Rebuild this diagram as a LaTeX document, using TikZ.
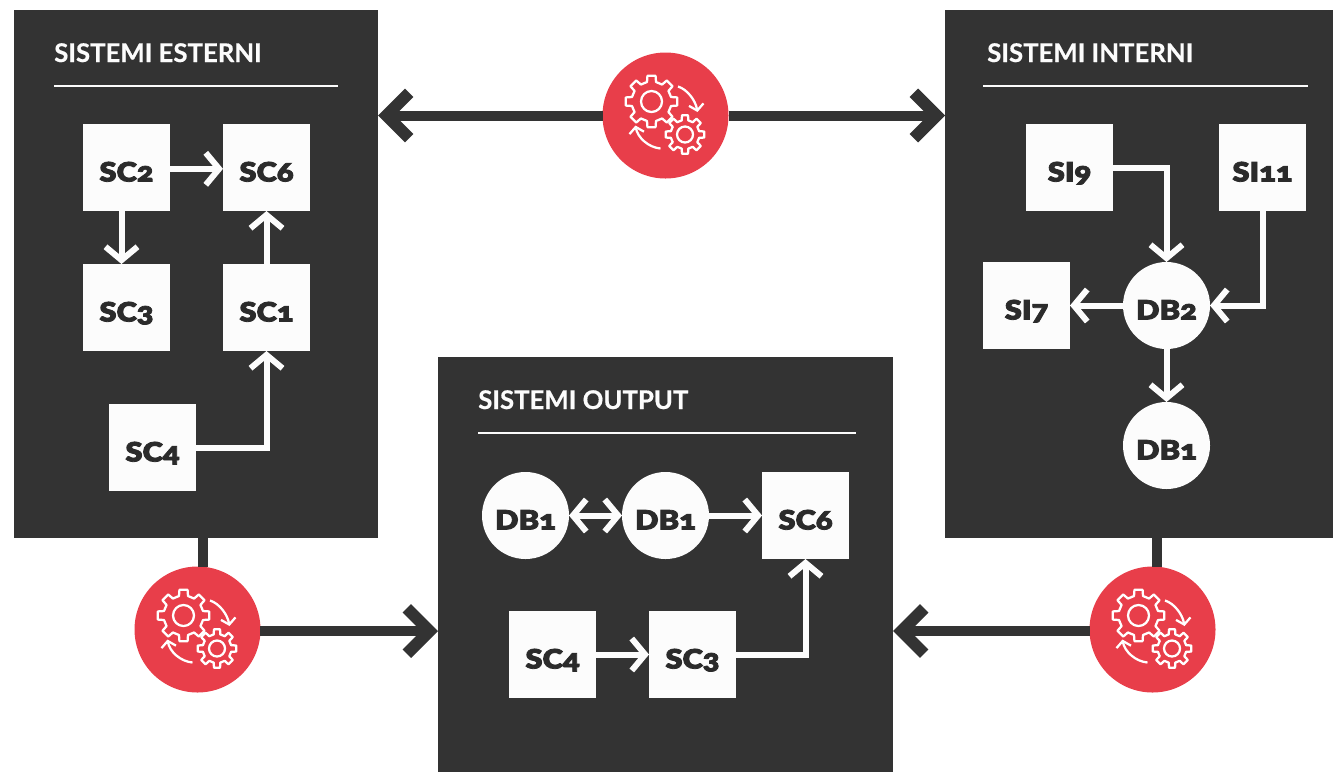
\documentclass[tikz,border=0pt]{standalone}
\usepackage{fontspec}
\setmainfont{Lato}
\newfontfamily\titlefont[FakeBold=0.5]{Lato Bold}
\newfontfamily\nodefont[Numbers=OldStyle,FakeBold=3,FakeStretch=1.16]{Lato Black}
\usetikzlibrary{arrows.meta,calc}
\definecolor{panel}{HTML}{333333}
\definecolor{ink}{HTML}{2B2B2B}
\definecolor{snow}{HTML}{FCFCFC}
\definecolor{hub}{HTML}{E83E4A}
\tikzset{
  x=0.75pt,y=-0.75pt,
  sq/.style={fill=snow,text=ink,minimum size=65.25pt,inner sep=0,outer sep=0,text height=21pt,text depth=0pt,font=\nodefont\fontsize{20}{20}\selectfont},
  ci/.style={circle,fill=snow,text=ink,minimum size=65.25pt,inner sep=0,outer sep=0,text height=21pt,text depth=0pt,font=\nodefont\fontsize{20}{20}\selectfont},
  hubnode/.style={circle,fill=hub,minimum size=94.5pt,inner sep=0,outer sep=0},
  wbarb/.tip={Straight Barb[length=10pt,width=24pt,line width=4.5pt,sharp]},
  dbarb/.tip={Straight Barb[length=17pt,width=34pt,line width=9pt,sharp]},
  wline/.style={draw=snow,line width=4.5pt,-wbarb},
  wboth/.style={draw=snow,line width=4.5pt,wbarb-wbarb},
  dline/.style={draw=panel,line width=7.5pt},
  darrow/.style={draw=panel,line width=7.5pt,-dbarb},
  ttl/.style={text=snow,anchor=base west,inner sep=0,font=\titlefont\fontsize{19.3}{20}\selectfont},
  rule/.style={draw=snow,line width=1.5pt},
  gearline/.style={draw=white,line width=1.7pt,line join=round},
  giro/.style={draw=white,line width=1.7pt,-{Straight Barb[length=4.5pt,width=11pt,line width=1.7pt]}},
  pics/gears/.style={code={
    \begin{scope}[shift={(-14,-14)}]
      \draw[gearline] \foreach \a [count=\i] in {0,45,...,315}{
        \ifnum\i=1 (\a-9:26) \else -- (\a-9:26) \fi
        -- (\a+9:26) -- (\a+13:20) -- (\a+32:20) } -- cycle;
      \draw[gearline] (0,0) circle (10.5);
    \end{scope}
    \begin{scope}[shift={(19.5,19)}]
      \draw[gearline] \foreach \a [count=\i] in {0,45,...,315}{
        \ifnum\i=1 (\a-9:19.5) \else -- (\a-9:19.5) \fi
        -- (\a+9:19.5) -- (\a+13:14.5) -- (\a+32:14.5) } -- cycle;
      \draw[gearline] (0,0) circle (8);
    \end{scope}
    \draw[giro] (12.5,-29) .. controls (22,-26) and (30,-15) .. (32,-3.5);
    \draw[giro] (-5,33) .. controls (-17,32) and (-28,22) .. (-30,10);
  }}
}
\begin{document}
\begin{tikzpicture}
\useasboundingbox (0,0) rectangle (1333,772);
% panels
\fill[panel] (14,10) coordinate (lnw) rectangle (378,538) coordinate (lse);
\fill[panel] (945,10) coordinate (rnw) rectangle (1333,538) coordinate (rse);
\fill[panel] (438,357) coordinate (bnw) rectangle (893,772) coordinate (bse);
% hubs
\node[hubnode] (hubt) at (665.5,115.5) {};
\node[hubnode] (hubl) at (197.5,629.5) {};
\node[hubnode] (hubr) at (1152.5,629.5) {};
\pic at (hubt) {gears};
\pic at (hubl) {gears};
\pic at (hubr) {gears};
% big connectors
\coordinate (pl) at (378,115.5);
\coordinate (pr) at (945,115.5);
\coordinate (pbl) at (438,631);
\coordinate (pbr) at (893,631);
\coordinate (plb) at (203,538);
\coordinate (prb) at (1157,538);
\coordinate (hl1) at (260,631);
\coordinate (hr1) at (1090,631);
\coordinate (hl0) at (203,567);
\coordinate (hr0) at (1157,567);
\draw[darrow] (hubt.west) -- (pl);
\draw[darrow] (hubt.east) -- (pr);
\draw[dline] (plb) -- (hl0);
\draw[dline] (prb) -- (hr0);
\draw[darrow] (hl1) -- (pbl);
\draw[darrow] (hr1) -- (pbr);
% titles
\node[ttl] (t1) at (54,62) {SISTEMI ESTERNI};
\node[ttl] (t2) at (987,62) {SISTEMI INTERNI};
\node[ttl] (t3) at (478,409) {SISTEMI OUTPUT};
\draw[rule] (54,85.5) -- (338,85.5);
\draw[rule] (983,85.5) -- (1308,85.5);
\draw[rule] (478,433) -- (856,433);
% left nodes
\node[sq] (sc2) at (126.5,167.5) {SC2};
\node[sq] (sc6) at (266.5,167.5) {SC6};
\node[sq] (sc3) at (126.5,307.5) {SC3};
\node[sq] (sc1) at (266.5,307.5) {SC1};
\node[sq] (sc4) at (152.5,447.5) {SC4};
\draw[wline] ([yshift=-1pt]sc2.east) -- ([yshift=-1pt]sc6.west);
\draw[wline] ([xshift=-3.75pt]sc2.south) -- ([xshift=-3.75pt]sc3.north);
\draw[wline] (sc1.north) -- (sc6.south);
\draw[wline] (sc4.east) -| (sc1.south);
% right nodes
\node[sq] (si9) at (1069.5,167.5) {SI9};
\node[sq] (si11) at (1262.5,167.5) {SI11};
\node[sq] (si7) at (1026.5,305.5) {SI7};
\node[ci] (db2) at (1166.5,305.5) {DB2};
\node[ci] (db1r) at (1166.5,445.5) {DB1};
\draw[wline] (si9.east) -| (db2.north);
\draw[wline] (si11.south) |- (db2.east);
\draw[wline] (db2.west) -- (si7.east);
\draw[wline] (db2.south) -- (db1r.north);
% bottom nodes
\node[ci] (db1a) at (525.5,515.5) {DB1};
\node[ci] (db1b) at (665.5,515.5) {DB1};
\node[sq] (sc6b) at (805.5,515.5) {SC6};
\node[sq] (sc4b) at (552.5,654.5) {SC4};
\node[sq] (sc3b) at (692.5,654.5) {SC3};
\draw[wboth] (db1a.east) -- (db1b.west);
\draw[wline] (db1b.east) -- (sc6b.west);
\draw[wline] (sc4b.east) -- (sc3b.west);
\draw[wline] (sc3b.east) -| (sc6b.south);
\end{tikzpicture}
\end{document}
